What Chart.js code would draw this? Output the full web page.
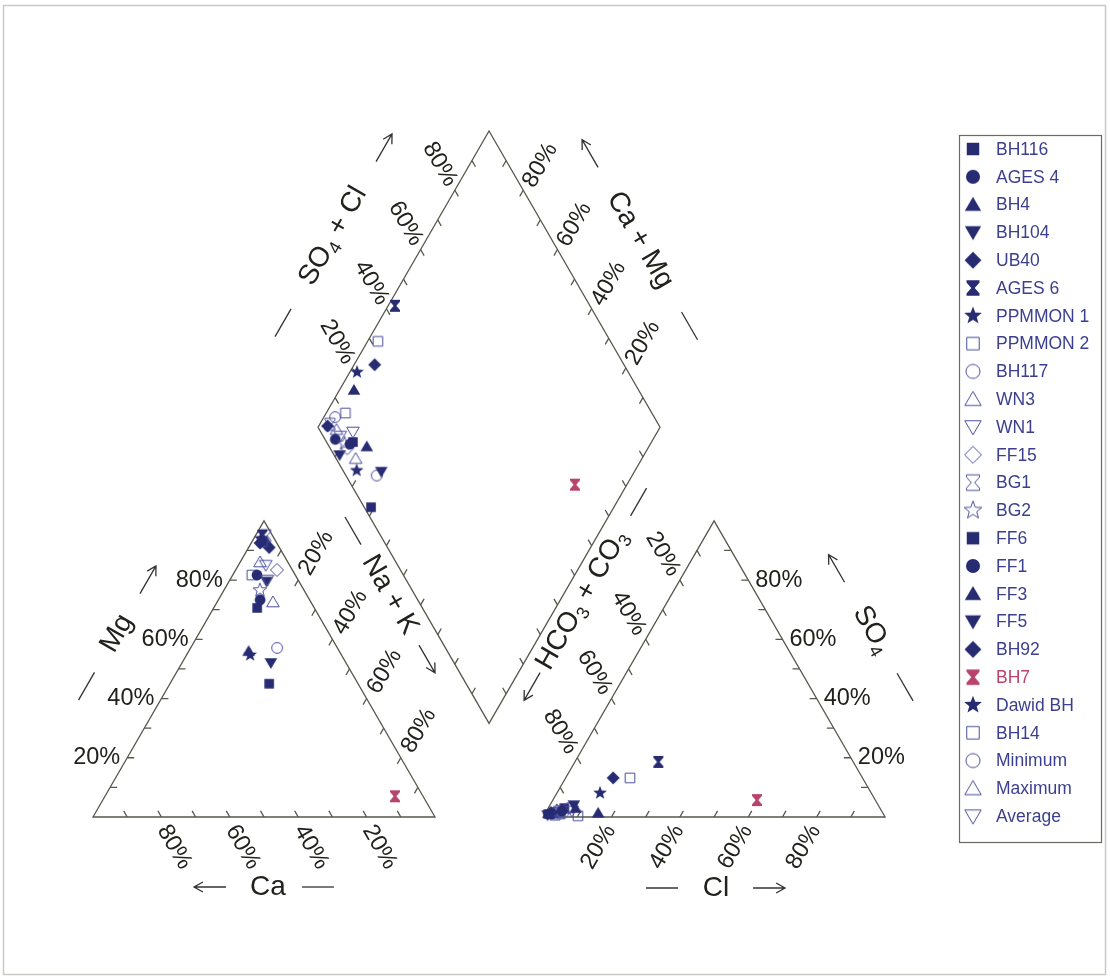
<!DOCTYPE html>
<html>
<head>
<meta charset="utf-8">
<script src="https://cdn.jsdelivr.net/npm/chart.js@4.4.0/dist/chart.umd.min.js"></script>
<style>
html, body { margin: 0; padding: 0; background: #fff; }
canvas { display: block; }
</style>
</head>
<body>
<canvas id="piper" width="1110" height="979"></canvas>
<script>
// sample names, in legend order
var sampleNames = ['BH116', 'AGES 4', 'BH4', 'BH104', 'UB40', 'AGES 6', 'PPMMON 1', 'PPMMON 2',
    'BH117', 'WN3', 'WN1', 'FF15', 'BG1', 'BG2', 'FF6', 'FF1', 'FF3', 'FF5', 'BH92', 'BH7',
    'Dawid BH', 'BH14', 'Minimum', 'Maximum', 'Average'];

// cations, % meq
var caPct  = [26, 14.5, 26.5, 22, 4.9, 3, 3.9, 4, 17.6, 11.1, 9, 4.5, 2, 12.9, 16.7, 11.2, 2.8, 9.5, 3, 8.2, 26.7, 12.7, 3.7, 8.1, 7];
var mgPct  = [45, 73.3, 56, 52, 92.5, 95, 94, 93, 57.1, 72.6, 80, 83.4, 95, 76.6, 70.6, 81.7, 93, 79.5, 91, 7, 54.7, 81.7, 93, 86.1, 85];
var naKPct = [29, 12.2, 17.5, 26, 2.6, 2, 2.1, 3, 25.3, 16.3, 11, 12.1, 3, 10.5, 12.7, 7.1, 4.2, 11, 6, 84.8, 18.6, 5.6, 3.3, 5.8, 8];

// anions, % meq
var hco3Pct = [98, 93.5, 89, 89, 97, 57, 79.3, 68, 91, 94.3, 90.6, 95, 96, 95, 92.3, 97, 83.2, 98.4, 72.9, 34.6, 96, 89.6, 93.3, 95, 95];
var so4Pct  = [1, 2, 3, 4, 1.5, 18.6, 8.1, 13.2, 3, 2, 2, 2, 1, 2, 3, 1, 1.4, 0.6, 13.2, 5.7, 1.5, 0.4, 1.5, 1, 1.5];
var clPct   = [1, 4.5, 8, 7, 1.5, 24.4, 12.6, 18.8, 6, 3.7, 7.4, 3, 3, 3, 4.7, 2, 15.4, 1, 13.9, 59.7, 2.5, 10, 5.2, 4, 3.5];

// tick labels
var tickLabels = ['20%', '40%', '60%', '80%'];
var tickValues = [0.2, 0.4, 0.6, 0.8];

// marker styles
var markerShape = ['square', 'circle', 'triUp', 'triDown', 'diamond', 'hourglass', 'star', 'square',
    'circle', 'triUp', 'triDown', 'diamond', 'hourglass', 'star', 'square', 'circle', 'triUp',
    'triDown', 'diamond', 'hourglass', 'star', 'square', 'circle', 'triUp', 'triDown'];
var markerFilled = [1, 1, 1, 1, 1, 1, 1, 0, 0, 0, 0, 0, 0, 0, 1, 1, 1, 1, 1, 1, 1, 0, 0, 0, 0];

var NAVY = '#262b72', NAVY_OPEN = '#4a4f9e', ROSE = '#b8436d';
var LINE = '#57574b', INK = '#22221c';
var FONT = '"Liberation Sans", Arial, sans-serif';

// piper geometry, in data units (triangle side = 100)
var SIDE = 100, GAP = 31.6, H = SIDE * Math.sqrt(3) / 2;
var RX0 = SIDE + GAP;
var DB = { x: SIDE + GAP / 2, y: GAP / 2 * Math.sqrt(3) };

function cationXY(mg, nak) { return { x: nak * SIDE + mg * SIDE / 2, y: mg * H }; }
function anionXY(so4, cl) { return { x: RX0 + cl * SIDE + so4 * SIDE / 2, y: so4 * H }; }
function diamondXY(a, c) { return { x: DB.x + (a - c) * SIDE / 2, y: DB.y + (a + c) * H }; }

function makeMarker(shape, filled, color, scale) {
    var size = Math.ceil(18 * scale);
    var c = document.createElement('canvas');
    c.width = size; c.height = size;
    var g = c.getContext('2d');
    g.translate(size / 2, size / 2);
    g.scale(scale, scale);
    g.beginPath();
    if (shape === 'square') {
        g.rect(-4.8, -4.8, 9.6, 9.6);
    } else if (shape === 'circle') {
        g.arc(0, 0, 5.4, 0, Math.PI * 2);
    } else if (shape === 'triUp') {
        g.moveTo(0, -6); g.lineTo(6.3, 4.8); g.lineTo(-6.3, 4.8);
    } else if (shape === 'triDown') {
        g.moveTo(0, 6); g.lineTo(6.3, -4.8); g.lineTo(-6.3, -4.8);
    } else if (shape === 'diamond') {
        g.moveTo(0, -6.5); g.lineTo(6.5, 0); g.lineTo(0, 6.5); g.lineTo(-6.5, 0);
    } else if (shape === 'hourglass') {
        var hg = [[-5, -6], [5, -6], [5, -4.2], [1.3, 0], [5, 4.2], [5, 6], [-5, 6], [-5, 4.2], [-1.3, 0], [-5, -4.2]];
        g.moveTo(hg[0][0], hg[0][1]);
        for (var k = 1; k < hg.length; k++) g.lineTo(hg[k][0], hg[k][1]);
    } else if (shape === 'star') {
        for (var i = 0; i < 10; i++) {
            var r = i % 2 ? 3 : 7.2;
            var ang = -Math.PI / 2 + i * Math.PI / 5;
            if (i === 0) g.moveTo(r * Math.cos(ang), r * Math.sin(ang));
            else g.lineTo(r * Math.cos(ang), r * Math.sin(ang));
        }
    }
    g.closePath();
    if (filled) {
        g.fillStyle = color; g.fill();
    } else {
        g.lineWidth = 1 / scale; g.strokeStyle = color; g.stroke();
    }
    return c;
}

function markerColor(i) {
    if (sampleNames[i] === 'BH7') return ROSE;
    return markerFilled[i] ? NAVY : NAVY_OPEN;
}

var markers = sampleNames.map(function(n, i) {
    return makeMarker(markerShape[i], markerFilled[i], markerColor(i), 1);
});
var legendMarkers = sampleNames.map(function(n, i) {
    return makeMarker(markerShape[i], markerFilled[i], markerColor(i), 1.3);
});

var datasets = sampleNames.map(function(name, i) {
    var cSum = caPct[i] + mgPct[i] + naKPct[i];
    var aSum = hco3Pct[i] + so4Pct[i] + clPct[i];
    var mg = mgPct[i] / cSum, nak = naKPct[i] / cSum;
    var so4 = so4Pct[i] / aSum, cl = clPct[i] / aSum;
    return {
        label: name,
        data: [cationXY(mg, nak), anionXY(so4, cl), diamondXY(so4 + cl, 1 - nak)],
        pointStyle: markers[i],
        pointRadius: 6,
        showLine: false
    };
});

// --- text helpers ---
function setFont(ctx, size) { ctx.font = size + 'px ' + FONT; }

function drawLabel(ctx, text, x, y, deg, align) {
    ctx.save();
    ctx.translate(x, y);
    ctx.rotate(deg * Math.PI / 180);
    setFont(ctx, 23.5);
    ctx.fillStyle = INK;
    ctx.textAlign = align || 'center';
    ctx.textBaseline = 'middle';
    ctx.fillText(text, 0, 0);
    ctx.restore();
}

function richWidth(ctx, parts, size) {
    var w = 0;
    parts.forEach(function(p) {
        setFont(ctx, p.sub ? Math.round(size * 0.66) : size);
        w += ctx.measureText(p.t).width;
    });
    return w;
}

function drawTitle(ctx, cx, cy, deg, items) {
    var size = 28;
    ctx.save();
    ctx.translate(cx, cy);
    ctx.rotate(deg * Math.PI / 180);
    ctx.fillStyle = INK;
    ctx.strokeStyle = '#333';
    ctx.lineWidth = 1.3;
    ctx.textBaseline = 'middle';
    ctx.textAlign = 'left';
    items.forEach(function(it) {
        if (it.kind === 'text') {
            var w = richWidth(ctx, it.parts, size);
            var x = it.at - w / 2;
            it.parts.forEach(function(p) {
                var s = p.sub ? Math.round(size * 0.66) : size;
                setFont(ctx, s);
                ctx.fillText(p.t, x, p.sub ? size * 0.3 : 0);
                x += ctx.measureText(p.t).width;
            });
        } else if (it.kind === 'dash') {
            ctx.beginPath();
            ctx.moveTo(it.at - 16, 0); ctx.lineTo(it.at + 16, 0);
            ctx.stroke();
        } else if (it.kind === 'arrow') {
            var tip = it.at + 16 * it.dir;
            ctx.beginPath();
            ctx.moveTo(it.at - 16 * it.dir, 0); ctx.lineTo(tip, 0);
            ctx.moveTo(tip - 9 * it.dir, -5); ctx.lineTo(tip, 0); ctx.lineTo(tip - 9 * it.dir, 5);
            ctx.stroke();
        }
    });
    ctx.restore();
}

var piperFrame = {
    id: 'piperFrame',
    beforeDatasetsDraw: function(chart) {
        var ctx = chart.ctx;
        var xs = chart.scales.x, ys = chart.scales.y;
        function P(pt) { return [xs.getPixelForValue(pt.x), ys.getPixelForValue(pt.y)]; }

        ctx.save();
        // outer figure border
        ctx.strokeStyle = '#c9c9c4';
        ctx.lineWidth = 1.5;
        ctx.strokeRect(3.5, 5.5, 1102, 969);

        // outlines
        var shapes = [
            [cationXY(0, 0), cationXY(0, 1), cationXY(1, 0)],
            [anionXY(0, 0), anionXY(0, 1), anionXY(1, 0)],
            [diamondXY(0, 0), diamondXY(1, 0), diamondXY(1, 1), diamondXY(0, 1)]
        ];
        ctx.strokeStyle = LINE;
        ctx.lineWidth = 1.3;
        shapes.forEach(function(sh) {
            ctx.beginPath();
            sh.forEach(function(pt, k) {
                var p = P(pt);
                if (k === 0) ctx.moveTo(p[0], p[1]); else ctx.lineTo(p[0], p[1]);
            });
            ctx.closePath();
            ctx.stroke();
        });

        // ticks every 10 %, drawn inwards along the iso-lines
        var S = Math.sqrt(3) / 2, TL = 7;
        var axes = [
            { at: function(f) { return cationXY(0, 1 - f); }, d: [-0.5, -S] },      // Ca
            { at: function(f) { return cationXY(f, 0); }, d: [1, 0] },              // Mg
            { at: function(f) { return cationXY(1 - f, f); }, d: [-0.5, S] },       // Na+K
            { at: function(f) { return anionXY(0, f); }, d: [0.5, -S] },            // Cl
            { at: function(f) { return anionXY(f, 1 - f); }, d: [-1, 0] },         // SO4
            { at: function(f) { return anionXY(1 - f, 0); }, d: [0.5, S] },         // HCO3
            { at: function(f) { return diamondXY(f, 1); }, d: [0.5, S] },           // SO4+Cl
            { at: function(f) { return diamondXY(1, f); }, d: [-0.5, S] },          // Ca+Mg
            { at: function(f) { return diamondXY(0, f); }, d: [0.5, -S] },
            { at: function(f) { return diamondXY(f, 0); }, d: [-0.5, -S] }
        ];
        ctx.beginPath();
        axes.forEach(function(ax) {
            for (var k = 1; k < 10; k++) {
                var p = P(ax.at(k / 10));
                ctx.moveTo(p[0], p[1]);
                ctx.lineTo(p[0] + ax.d[0] * TL, p[1] + ax.d[1] * TL);
            }
        });
        ctx.stroke();

        // tick labels
        tickValues.forEach(function(f, k) {
            var t = tickLabels[k], p;
            p = P(axes[0].at(f)); drawLabel(ctx, t, p[0] + 13, p[1] + 30, 60);
            p = P(axes[1].at(f)); drawLabel(ctx, t, p[0] - 7, p[1], 0, 'right');
            p = P(axes[2].at(f)); drawLabel(ctx, t, p[0] + 18, p[1] - 27, -60);
            p = P(axes[3].at(f)); drawLabel(ctx, t, p[0] - 13, p[1] + 30, -60);
            p = P(axes[4].at(f)); drawLabel(ctx, t, p[0] + 7, p[1], 0, 'left');
            p = P(axes[5].at(f)); drawLabel(ctx, t, p[0] - 17, p[1] - 26, 60);
            p = P(axes[6].at(f)); drawLabel(ctx, t, p[0] - 15, p[1] - 26, 60);
            p = P(axes[7].at(f)); drawLabel(ctx, t, p[0] + 17, p[1] - 25, -60);
        });

        // axis titles
        var m;
        m = P(cationXY(0.5, 0));
        drawTitle(ctx, m[0] - 61.5, m[1] - 35.5, -60, [
            { kind: 'dash', at: -61 }, { kind: 'text', parts: [{ t: 'Mg' }], at: 0 }, { kind: 'arrow', at: 62, dir: 1 }]);
        m = P(cationXY(0, 0.5));
        drawTitle(ctx, m[0] + 4, m[1] + 70, 0, [
            { kind: 'arrow', at: -58, dir: -1 }, { kind: 'text', parts: [{ t: 'Ca' }], at: 0 }, { kind: 'dash', at: 50 }]);
        m = P(cationXY(0.5, 0.5));
        drawTitle(ctx, m[0] + 40.5, m[1] - 74, 60, [
            { kind: 'dash', at: -74 }, { kind: 'text', parts: [{ t: 'Na + K' }], at: 0 }, { kind: 'arrow', at: 74, dir: 1 }]);
        m = P(diamondXY(0.5, 1));
        drawTitle(ctx, m[0] - 70.5, m[1] - 43, -60, [
            { kind: 'dash', at: -100 },
            { kind: 'text', parts: [{ t: 'SO' }, { t: '4', sub: true }, { t: ' + Cl' }], at: 0 },
            { kind: 'arrow', at: 102, dir: 1 }]);
        m = P(diamondXY(1, 0.5));
        drawTitle(ctx, m[0] + 65.5, m[1] - 39, 60, [
            { kind: 'arrow', at: -100, dir: -1 }, { kind: 'text', parts: [{ t: 'Ca + Mg' }], at: 0 }, { kind: 'dash', at: 99 }]);
        m = P(anionXY(0.5, 0));
        drawTitle(ctx, m[0] - 46.5, m[1] - 69, -60, [
            { kind: 'arrow', at: -100, dir: -1 },
            { kind: 'text', parts: [{ t: 'HCO' }, { t: '3', sub: true }, { t: ' + CO' }, { t: '3', sub: true }], at: 0 },
            { kind: 'dash', at: 113 }]);
        m = P(anionXY(0.5, 0.5));
        drawTitle(ctx, m[0] + 72.5, m[1] - 39, 60, [
            { kind: 'arrow', at: -71, dir: -1 },
            { kind: 'text', parts: [{ t: 'SO' }, { t: '4', sub: true }], at: 0 },
            { kind: 'dash', at: 66 }]);
        m = P(anionXY(0, 0.5));
        drawTitle(ctx, m[0] + 2, m[1] + 71, 0, [
            { kind: 'dash', at: -54 }, { kind: 'text', parts: [{ t: 'Cl' }], at: 0 }, { kind: 'arrow', at: 53, dir: 1 }]);
        ctx.restore();
    }
};

var sideLegend = {
    id: 'sideLegend',
    afterDraw: function(chart) {
        var ctx = chart.ctx;
        ctx.save();
        ctx.strokeStyle = '#6a6a60';
        ctx.lineWidth = 1.2;
        ctx.strokeRect(959.5, 135.5, 142, 707);
        setFont(ctx, 17.5);
        ctx.textBaseline = 'middle';
        ctx.textAlign = 'left';
        chart.data.datasets.forEach(function(ds, i) {
            var y = 149 + i * 27.8;
            var img = legendMarkers[i];
            ctx.drawImage(img, 973 - img.width / 2, y - img.height / 2);
            ctx.fillStyle = ds.label === 'BH7' ? ROSE : '#3b3f8e';
            ctx.fillText(ds.label, 996, y + 1);
        });
        ctx.restore();
    }
};

// pixel scale 3.42 px per unit, origin of left triangle at (93, 817)
var PX = 3.42, OX = 93, OY = 817;
new Chart(document.getElementById('piper'), {
    type: 'scatter',
    data: { datasets: datasets },
    options: {
        responsive: false,
        animation: false,
        devicePixelRatio: 1,
        layout: { padding: 0, autoPadding: false },
        scales: {
            x: { type: 'linear', display: false, min: -OX / PX, max: (1110 - OX) / PX },
            y: { type: 'linear', display: false, min: -(979 - OY) / PX, max: OY / PX }
        },
        plugins: {
            legend: { display: false },
            tooltip: { enabled: false }
        }
    },
    plugins: [piperFrame, sideLegend]
});
</script>
</body>
</html>
